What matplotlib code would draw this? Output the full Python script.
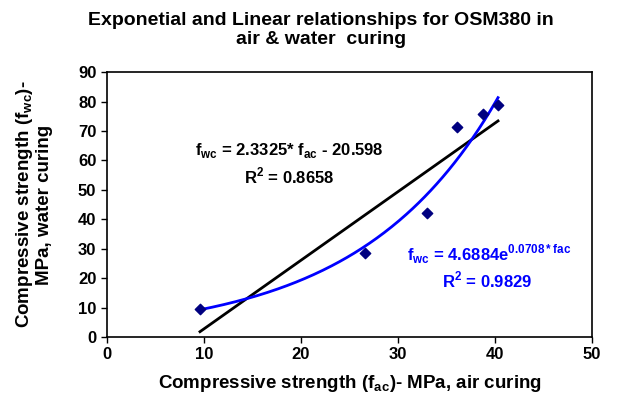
import numpy as np
import matplotlib
matplotlib.use("Agg")
import matplotlib.pyplot as plt

plt.rcParams['font.family'] = ['Liberation Sans', 'DejaVu Sans']
plt.rcParams['font.weight'] = 'bold'
plt.rcParams['mathtext.fontset'] = 'custom'
plt.rcParams['mathtext.bf'] = 'Liberation Sans:bold'
plt.rcParams['mathtext.rm'] = 'Liberation Sans:bold'

# data
f_ac = [9.6, 26.6, 33.0, 36.1, 38.8, 40.3]
f_wc = [9.5, 28.5, 42.0, 71.2, 75.8, 78.7]
lin_slope, lin_int = 2.3325, -20.598
exp_a, exp_b = 4.6884, 0.0708
xticks = [0, 10, 20, 30, 40, 50]
yticks = [0, 10, 20, 30, 40, 50, 60, 70, 80, 90]

fig = plt.figure(figsize=(6.32, 4.05), dpi=100)
ax = fig.add_axes([0.169, 0.168, 0.768, 0.654])

xs = np.linspace(min(f_ac), max(f_ac), 200)
ax.plot(xs, lin_slope * xs + lin_int, color='black', lw=2, zorder=2)
ax.plot(xs, exp_a * np.exp(exp_b * xs), color='#0000ff', lw=2, zorder=3)
ax.scatter(f_ac, f_wc, marker='D', s=28, color='#000080', zorder=4)

ax.set_xlim(0, 50)
ax.set_ylim(0, 90)
ax.set_xticks(xticks)
ax.set_yticks(yticks)
ax.tick_params(axis='both', labelsize=12, width=1, length=4, direction='out')
for lab in ax.get_xticklabels() + ax.get_yticklabels():
    lab.set_fontweight('bold')
for sp in ax.spines.values():
    sp.set_linewidth(1.2)

fig.text(0.508, 0.97, 'Exponetial and Linear relationships for OSM380 in\nair & water  curing',
         fontsize=14, fontweight='bold', ha='center', va='top', linespacing=1.15)
ax.set_xlabel('Compressive strength (f$_{\\mathbf{ac}}$)- MPa, air curing',
              fontsize=13.5, fontweight='bold', labelpad=8)
ax.set_ylabel('Compressive strength (f$_{\\mathbf{wc}}$)-\nMPa, water curing',
              fontsize=13.5, fontweight='bold', labelpad=18, linespacing=1.1)

ax.text(18.8, 63.5, 'f$_{\\mathbf{wc}}$ = 2.3325* f$_{\\mathbf{ac}}$ - 20.598',
        ha='center', va='center', fontsize=12, fontweight='bold', color='black')
ax.text(18.8, 54.8, 'R$^{\\mathbf{2}}$ = 0.8658',
        ha='center', va='center', fontsize=12, fontweight='bold', color='black')
ax.text(39.4, 28.0, 'f$_{\\mathbf{wc}}$ = 4.6884e$^{\\mathbf{0.0708* fac}}$',
        ha='center', va='center', fontsize=12, fontweight='bold', color='#0000ff')
ax.text(39.2, 19.2, 'R$^{\\mathbf{2}}$ = 0.9829',
        ha='center', va='center', fontsize=12, fontweight='bold', color='#0000ff')

fig.savefig('out.png', dpi=100)
